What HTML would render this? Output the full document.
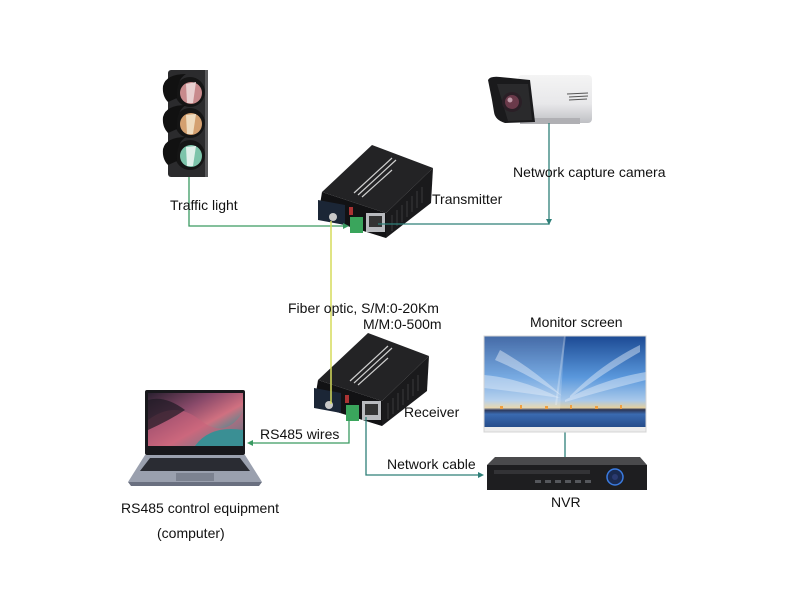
<!DOCTYPE html>
<html><head><meta charset="utf-8"><style>
html,body{margin:0;padding:0;background:#fff;}
svg{display:block;}
text{font-family:"Liberation Sans",Arial,sans-serif;font-size:14px;fill:#111;}
</style></head><body>
<svg width="800" height="600" viewBox="0 0 800 600" xmlns="http://www.w3.org/2000/svg">
<defs>
<linearGradient id="sky" x1="0" y1="0" x2="0" y2="1">
<stop offset="0" stop-color="#1c4a94"/>
<stop offset="0.45" stop-color="#5a98dc"/>
<stop offset="0.7" stop-color="#a8c8ea"/>
<stop offset="0.78" stop-color="#e2cfa0"/>
<stop offset="0.8" stop-color="#2c3350"/>
<stop offset="0.85" stop-color="#3a6ab0"/>
<stop offset="1" stop-color="#244a88"/>
</linearGradient>
<linearGradient id="lap" x1="0" y1="0" x2="1" y2="1">
<stop offset="0" stop-color="#2a2030"/>
<stop offset="0.35" stop-color="#8a4a6a"/>
<stop offset="0.6" stop-color="#d07080"/>
<stop offset="0.8" stop-color="#4a8a90"/>
<stop offset="1" stop-color="#2a3a44"/>
</linearGradient>
<linearGradient id="cam" x1="0" y1="0" x2="0" y2="1">
<stop offset="0" stop-color="#f4f4f4"/>
<stop offset="0.6" stop-color="#e8e8ea"/>
<stop offset="1" stop-color="#bfc0c4"/>
</linearGradient>
<g id="conv">
<polygon points="372,145 433,168 386,213 322,192" fill="#232325"/>
<polygon points="322,192 386,213 386,238 318,217" fill="#121214"/>
<polygon points="386,213 433,168 431,203 386,238" fill="#1a1a1c"/>
<g stroke="#3a3a3c" stroke-width="1">
<line x1="392" y1="215" x2="392" y2="231"/><line x1="397" y1="210" x2="397" y2="226"/>
<line x1="402" y1="205" x2="402" y2="222"/><line x1="407" y1="201" x2="407" y2="217"/>
<line x1="412" y1="196" x2="412" y2="212"/><line x1="417" y1="191" x2="417" y2="208"/>
<line x1="422" y1="187" x2="422" y2="203"/>
</g>
<g stroke="#cfcfcf" stroke-width="1.2">
<line x1="354" y1="193" x2="392" y2="158"/>
<line x1="358" y1="195" x2="396" y2="160"/>
<line x1="362" y1="197" x2="392" y2="170"/>
</g>
<polygon points="318,200 345,205 345,225 318,220" fill="#1b2636"/>
<circle cx="333" cy="217" r="4" fill="#c8c8c8"/>
<rect x="349" y="207" width="4" height="8" fill="#a33"/>
<rect x="350" y="217" width="13" height="16" fill="#3aa55c"/>
<rect x="366" y="213" width="19" height="19" fill="#b8babe"/>
<rect x="369" y="216" width="13" height="11" fill="#333"/>
</g>
</defs>

<!-- Traffic light -->
<rect x="168" y="70" width="40" height="107" rx="3" fill="#2b2b2d"/>
<rect x="205" y="70" width="3" height="107" fill="#5a5a5c"/>
<g>
<circle cx="190" cy="92" r="15" fill="#151515"/>
<circle cx="191" cy="93" r="11" fill="#c88a8c"/>
<path d="M186,84 L196,82 L193,103 L187,103 Z" fill="#e8d0d0"/>
<path d="M163,86 Q166,74 186,74 Q176,80 177,98 L168,102 Q162,96 163,86 Z" fill="#111"/>
<circle cx="190" cy="123" r="15" fill="#151515"/>
<circle cx="191" cy="124" r="11" fill="#d4a070"/>
<path d="M186,115 L196,114 L193,134 L187,134 Z" fill="#efdcc0"/>
<path d="M163,117 Q166,105 186,105 Q176,111 177,129 L168,133 Q162,127 163,117 Z" fill="#111"/>
<circle cx="190" cy="155" r="15" fill="#151515"/>
<circle cx="191" cy="156" r="11" fill="#7cc4aa"/>
<path d="M186,147 L196,146 L193,166 L187,166 Z" fill="#e0f0ea"/>
<path d="M163,149 Q166,137 186,137 Q176,143 177,161 L168,165 Q162,159 163,149 Z" fill="#111"/>
</g>

<!-- Camera -->
<rect x="518" y="75" width="74" height="48" rx="4" fill="url(#cam)"/>
<rect x="520" y="118" width="60" height="6" fill="#b0b0b4"/>
<path d="M488,80 Q490,76 500,77 L530,80 L535,122 L505,123 Q495,120 494,112 L492,100 Z" fill="#1a1a1c"/>
<path d="M497,84 L528,84 L532,120 L508,121 Z" fill="#2a2a2c"/>
<circle cx="512" cy="102" r="10" fill="#2a1f26"/>
<circle cx="512" cy="102" r="7" fill="#6a3a4a"/>
<circle cx="510" cy="100" r="2.5" fill="#c09aa8"/>
<g stroke="#555" stroke-width="1"><line x1="567" y1="94" x2="588" y2="93"/><line x1="569" y1="97" x2="588" y2="96"/><line x1="569" y1="100" x2="587" y2="99"/></g>

<!-- Converters -->
<use href="#conv"/>
<use href="#conv" transform="translate(-4,188)"/>

<!-- Connectors -->
<g fill="none" stroke-width="1.3">
<polyline points="189,177 189,226 345,226" stroke="#3a9a62"/>
<polyline points="378,224 549,224 549,123" stroke="#2e7f78"/>
<line x1="331" y1="221" x2="331" y2="404" stroke="#d6dc5c" stroke-width="1.5"/>
<polyline points="349,418 349,443 252,443" stroke="#3a9a62"/>
<polyline points="366,417 366,475 479,475" stroke="#2e7f78"/>
<line x1="565" y1="432" x2="565" y2="457" stroke="#2e7f78"/>
</g>
<polygon points="349,226 343,223 343,229" fill="#3a9a62"/>
<polygon points="549,225 546,219 552,219" fill="#2e7f78"/>
<polygon points="247,443 253,440 253,446" fill="#3a9a62"/>
<polygon points="484,475 478,472 478,478" fill="#2e7f78"/>

<!-- Laptop -->
<rect x="145" y="390" width="100" height="65" rx="2" fill="#18181c"/>
<rect x="148" y="393" width="95" height="53" fill="url(#lap)"/>
<path d="M148,420 Q175,400 200,420 T243,412 L243,446 L148,446 Z" fill="#c8607a" opacity="0.55"/>
<path d="M195,446 Q210,425 243,430 L243,446 Z" fill="#3a8f94"/>
<path d="M148,400 Q165,395 185,410 Q170,420 148,430 Z" fill="#1e1a24" opacity="0.7"/>
<polygon points="145,455 245,455 262,482 128,482" fill="#9aa0ae"/>
<polygon points="150,458 240,458 250,471 140,471" fill="#2a2c33"/>
<rect x="176" y="473" width="38" height="8" fill="#7c8290"/>
<polygon points="128,482 262,482 259,486 131,486" fill="#6a7080"/>

<!-- Monitor -->
<rect x="484" y="336" width="162" height="92" fill="url(#sky)"/>
<polygon points="484,336 565,336 560,410 484,410" fill="#fff" opacity="0.18"/>
<g fill="#e8f0fa" opacity="0.45">
<path d="M484,375 Q520,378 560,398 Q520,392 484,388 Z"/>
<path d="M565,400 Q600,380 646,372 L646,380 Q605,390 565,402 Z"/>
<path d="M500,350 Q535,370 562,396 Q530,375 495,360 Z"/>
<path d="M570,396 Q600,365 640,345 L640,352 Q605,372 570,398 Z"/>
</g>
<line x1="565" y1="336" x2="556" y2="405" stroke="#fff" stroke-opacity="0.25" stroke-width="2"/>
<g fill="#f0a040">
<rect x="500" y="406" width="3" height="3"/><rect x="520" y="405" width="2" height="4"/><rect x="545" y="406" width="3" height="3"/>
<rect x="570" y="405" width="2" height="4"/><rect x="595" y="406" width="3" height="3"/><rect x="620" y="405" width="2" height="4"/>
</g>
<rect x="484" y="427" width="162" height="5" fill="#ececec"/>
<rect x="484" y="336" width="162" height="96" fill="none" stroke="#d4d4d4" stroke-width="1"/>

<!-- NVR -->
<polygon points="495,457 640,457 647,465 487,465" fill="#4a4a4c"/>
<rect x="487" y="465" width="160" height="25" fill="#1e1e20"/>
<rect x="494" y="470" width="96" height="4" fill="#333336"/>
<g fill="#55575c"><rect x="535" y="480" width="6" height="3"/><rect x="545" y="480" width="6" height="3"/><rect x="555" y="480" width="6" height="3"/><rect x="565" y="480" width="6" height="3"/><rect x="575" y="480" width="6" height="3"/><rect x="585" y="480" width="6" height="3"/></g>
<circle cx="615" cy="477" r="8" fill="#1a2a50" stroke="#3a7be0" stroke-width="1.5"/>
<circle cx="615" cy="477" r="3" fill="#2a3a70"/>

<!-- Labels -->
<text x="170" y="210">Traffic light</text>
<text x="432" y="204">Transmitter</text>
<text x="513" y="177">Network capture camera</text>
<text x="288" y="313">Fiber optic, S/M:0-20Km</text>
<text x="363" y="329">M/M:0-500m</text>
<text x="404" y="417">Receiver</text>
<text x="260" y="439">RS485 wires</text>
<text x="387" y="469">Network cable</text>
<text x="530" y="327">Monitor screen</text>
<text x="551" y="507">NVR</text>
<text x="121" y="513">RS485 control equipment</text>
<text x="157" y="538">(computer)</text>
</svg>
</body></html>
